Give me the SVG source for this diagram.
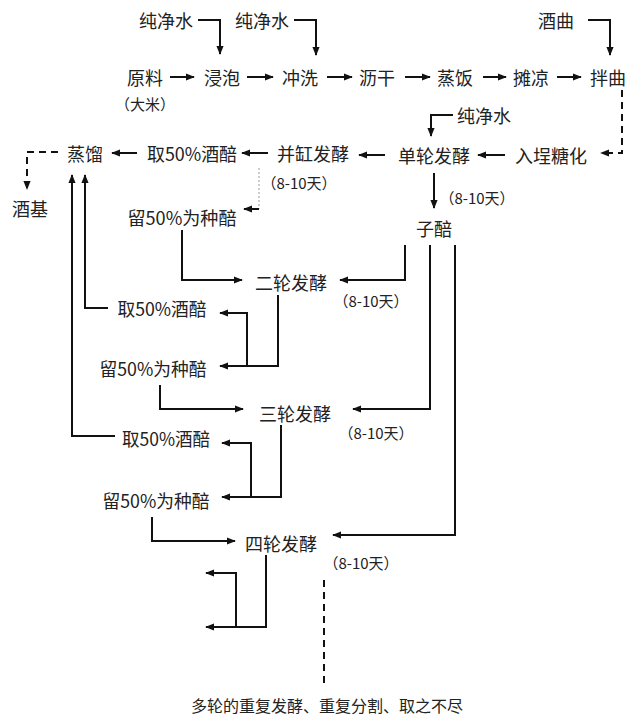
<svg xmlns="http://www.w3.org/2000/svg" width="640" height="724" viewBox="0 0 640 724">
<defs>
<marker id="ah" viewBox="0 0 10 10" refX="9" refY="5" markerWidth="9" markerHeight="9" markerUnits="userSpaceOnUse" orient="auto"><path d="M0,1 L10,5 L0,9 z" fill="#111"/></marker>
<style>
text{font-family:"Noto Sans CJK SC","Noto Sans",sans-serif;fill:#222;text-anchor:middle;dominant-baseline:central;font-size:18px}
text.s{font-size:15px}
text.b{font-size:16px}
.c{fill:none;stroke:#111;stroke-width:2;marker-end:url(#ah)}
.d{fill:none;stroke:#111;stroke-width:2;stroke-dasharray:7,5;marker-end:url(#ah)}
.g{fill:none;stroke:#999;stroke-width:1;stroke-dasharray:2,2}
.n{fill:none;stroke:#111;stroke-width:2}
</style>
</defs>
<rect width="640" height="724" fill="#fff"/>
<g id="connectors">
<polyline class="c" points="198,20 220,20 220,54"/>
<polyline class="c" points="294,20 316,20 316,55"/>
<polyline class="c" points="588,20 610,20 610,55"/>
<line class="c" x1="170" y1="77" x2="194" y2="77"/>
<line class="c" x1="247" y1="77" x2="273" y2="77"/>
<line class="c" x1="327" y1="77" x2="352" y2="77"/>
<line class="c" x1="405" y1="77" x2="430" y2="77"/>
<line class="c" x1="483" y1="77" x2="506" y2="77"/>
<line class="c" x1="557" y1="77" x2="581" y2="77"/>
<polyline class="d" points="622,90 622,153 601,153"/>
<polyline class="c" points="453,115 431,115 431,136"/>
<line class="c" x1="505" y1="155" x2="478" y2="155"/>
<line class="c" x1="385" y1="155" x2="359" y2="155"/>
<line class="c" x1="268" y1="153" x2="242" y2="153"/>
<line class="c" x1="137" y1="153" x2="112" y2="153"/>
<polyline class="d" points="58,152 27,152 27,189"/>
<line class="c" x1="434" y1="173" x2="434" y2="208"/>
<polyline class="g" points="259,168 259,209"/>
<line class="c" x1="259" y1="209" x2="244" y2="209"/>
<polyline class="c" points="182,230 182,280 242,280"/>
<polyline class="c" points="405,245 405,280 340,280"/>
<polyline class="c" points="430,245 430,409 353,409"/>
<polyline class="c" points="455,245 455,535 333,535"/>
<polyline class="c" points="278,295 278,366 220,366"/>
<polyline class="c" points="247,366 247,313 220,313"/>
<polyline class="c" points="108,308 85,308 85,175"/>
<polyline class="c" points="115,436 72,436 72,175"/>
<polyline class="c" points="160,385 160,409 243,409"/>
<polyline class="c" points="281,425 281,497 222,497"/>
<polyline class="c" points="251,497 251,443 222,443"/>
<polyline class="c" points="152,517 152,541 235,541"/>
<polyline class="c" points="266,555 266,627 206,627"/>
<polyline class="c" points="236,627 236,573 206,573"/>
<line class="n" x1="324" y1="580" x2="324" y2="683" stroke-dasharray="7,5"/>
</g>
<g id="n-water1"><text x="166" y="20">纯净水</text></g>
<g id="n-water2"><text x="262" y="20">纯净水</text></g>
<g id="n-jiuqu"><text x="556" y="20">酒曲</text></g>
<g id="n-yuanliao"><text x="145" y="77">原料</text><text class="s" x="145" y="103">（大米）</text></g>
<g id="n-jinpao"><text x="222" y="77">浸泡</text></g>
<g id="n-chongxi"><text x="300" y="77">冲洗</text></g>
<g id="n-ligan"><text x="377" y="77">沥干</text></g>
<g id="n-zhengfan"><text x="455" y="77">蒸饭</text></g>
<g id="n-tanliang"><text x="531" y="77">摊凉</text></g>
<g id="n-banqu"><text x="608" y="77">拌曲</text></g>
<g id="n-water3"><text x="484" y="115">纯净水</text></g>
<g id="n-rutan"><text x="551" y="155">入埕糖化</text></g>
<g id="n-danlun"><text x="434" y="155">单轮发酵</text><text class="s" x="477" y="197">（8-10天）</text></g>
<g id="n-binggang"><text x="313" y="153">并缸发酵</text><text class="s" x="299" y="182">（8-10天）</text></g>
<g id="n-qu1"><text x="192" y="153" textLength="90" lengthAdjust="spacingAndGlyphs">取50%酒醅</text></g>
<g id="n-zhengliu"><text x="85" y="153">蒸馏</text></g>
<g id="n-jiuji"><text x="30" y="208">酒基</text></g>
<g id="n-liu1"><text x="182" y="217" textLength="109" lengthAdjust="spacingAndGlyphs">留50%为种醅</text></g>
<g id="n-zipei"><text x="434" y="228">子醅</text></g>
<g id="n-erlun"><text x="291" y="282">二轮发酵</text><text class="s" x="371" y="300">（8-10天）</text></g>
<g id="n-qu2"><text x="162" y="308" textLength="89" lengthAdjust="spacingAndGlyphs">取50%酒醅</text></g>
<g id="n-liu2"><text x="153" y="368" textLength="107" lengthAdjust="spacingAndGlyphs">留50%为种醅</text></g>
<g id="n-sanlun"><text x="295" y="413">三轮发酵</text><text class="s" x="376" y="432">（8-10天）</text></g>
<g id="n-qu3"><text x="166" y="438" textLength="88" lengthAdjust="spacingAndGlyphs">取50%酒醅</text></g>
<g id="n-liu3"><text x="156" y="500" textLength="107" lengthAdjust="spacingAndGlyphs">留50%为种醅</text></g>
<g id="n-silun"><text x="281" y="543">四轮发酵</text><text class="s" x="361" y="562">（8-10天）</text></g>
<g id="n-bottom"><text class="b" x="327" y="705">多轮的重复发酵、重复分割、取之不尽</text></g>
</svg>
